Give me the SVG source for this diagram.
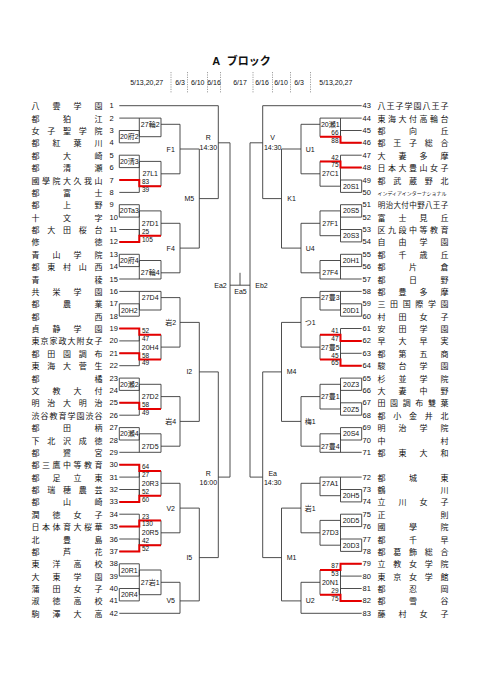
<svg xmlns="http://www.w3.org/2000/svg" width="481" height="680" viewBox="0 0 481 680">
<style>
.ln{fill:none;stroke:#3a3a3a;stroke-width:0.9}
.rd{fill:none;stroke:#e60000;stroke-width:2}
.sep{fill:none;stroke:#888;stroke-width:0.8;stroke-dasharray:1.2 1.2}
.nm{font-family:"Noto Sans CJK JP",sans-serif;font-size:8px;text-anchor:middle;dominant-baseline:central;fill:#111}
.no{font-family:"Liberation Sans",sans-serif;font-size:7.5px;dominant-baseline:central;fill:#111}
.lb{font-family:"Liberation Sans","Noto Sans CJK JP",sans-serif;font-size:7px;text-anchor:middle;dominant-baseline:central;fill:#111}
.sc{font-family:"Liberation Sans",sans-serif;font-size:6.5px;fill:#111}
.scr{font-family:"Liberation Sans",sans-serif;font-size:6.5px;fill:#111;text-anchor:end}
.hd{font-family:"Liberation Sans",sans-serif;font-size:7px;text-anchor:middle;dominant-baseline:central;fill:#111}
.tt{font-family:"Liberation Sans","Noto Sans CJK JP",sans-serif;font-size:11px;font-weight:bold;text-anchor:middle;fill:#111}
</style>
<rect width="481" height="680" fill="#fff"/>
<g id="title">
<text class="tt" x="216.3" y="64.5">A</text>
<text class="tt" x="248.7" y="64.5">ブロック</text>
</g>
<g id="dates">
<text class="hd" x="146.7" y="82.3">5/13,20,27</text>
<text class="hd" x="180" y="82.3">6/3</text>
<text class="hd" x="197.7" y="82.3">6/10</text>
<text class="hd" x="214" y="82.3">6/16</text>
<text class="hd" x="240" y="82.3">6/17</text>
<text class="hd" x="262" y="82.3">6/16</text>
<text class="hd" x="281" y="82.3">6/10</text>
<text class="hd" x="299" y="82.3">6/3</text>
<text class="hd" x="335.8" y="82.3">5/13,20,27</text>
<path class="sep" d="M171 72V93M187.5 72V93M207.5 72V93M220.5 72V93M253 72V93M272.5 72V93M290.5 72V93M310.5 72V93"/>
</g>
<g id="connectors">
<path class="ln" d="M119.3 105.7H218.3M119.3 118.1H161M119.3 130.5H139.3M119.3 142.8H139.3M119.3 155.2H139.3M119.3 167.6H139.3M119.3 180H139.3M119.3 192.4H139.3M119.3 204.7H139.3M119.3 217.1H139.3M119.3 229.5H139.3M119.3 241.9H139.3M119.3 254.3H139.3M119.3 266.6H139.3M119.3 279H161M119.3 291.4H161M119.3 303.8H139.3M119.3 316.2H139.3M119.3 328.5H139.3M119.3 340.9H139.3M119.3 353.3H139.3M119.3 365.7H139.3M119.3 378.1H139.3M119.3 390.4H139.3M119.3 402.8H139.3M119.3 415.2H139.3M119.3 427.6H139.3M119.3 440H139.3M119.3 452.3H161M119.3 464.7H139.3M119.3 477.1H139.3M119.3 489.5H139.3M119.3 501.9H139.3M119.3 514.2H139.3M119.3 526.6H139.3M119.3 539H139.3M119.3 551.4H139.3M119.3 563.8H139.3M119.3 576.1H139.3M119.3 588.5H139.3M119.3 600.9H139.3M119.3 613.3H180
M139.3 130.5V142.8M139.3 136.7H161M139.3 155.2V167.6M139.3 161.4H161M139.3 180V192.4M139.3 186.2H161M139.3 204.7V217.1M139.3 210.9H161M139.3 229.5V241.9M139.3 235.7H161M139.3 254.3V266.6M139.3 260.5H161M139.3 303.8V316.2M139.3 310H161M139.3 328.5V340.9M139.3 334.7H161M139.3 353.3V365.7M139.3 359.5H161M139.3 378.1V390.4M139.3 384.3H161M139.3 402.8V415.2M139.3 409H161M139.3 427.6V440M139.3 433.8H161M139.3 464.7V477.1M139.3 470.9H161M139.3 489.5V501.9M139.3 495.7H161M139.3 514.2V526.6M139.3 520.4H161M139.3 539V551.4M139.3 545.2H161M139.3 563.8V576.1M139.3 570H161M139.3 588.5V600.9M139.3 594.7H161
M119.3 130.5V142.8M119.3 155.2V167.6M119.3 204.7V217.1M119.3 254.3V266.6M119.3 303.8V316.2M119.3 378.1V390.4M119.3 427.6V440M119.3 563.8V576.1M119.3 588.5V600.9
M161 118.1V136.7M161 124.3H180M139.3 118.1V136.7M161 161.4V186.2M161 173.8H180M139.3 161.4V186.2M161 210.9V235.7M161 223.3H180M139.3 210.9V235.7M161 260.5V279M161 272.8H180M139.3 260.5V279M161 291.4V310M161 297.6H180M139.3 291.4V310M161 334.7V359.5M161 347.1H180M139.3 334.7V359.5M161 384.3V409M161 396.6H180M139.3 384.3V409M161 433.8V452.3M161 446.2H180M139.3 433.8V452.3M161 470.9V495.7M161 483.3H180M139.3 470.9V495.7M161 520.4V545.2M161 532.8H180M139.3 520.4V545.2M161 570V594.7M161 582.3H180M139.3 570V594.7
M180 124.3V173.8M180 149H199.3M180 223.3V272.8M180 248.1H199.3M180 297.6V347.1M180 322.4H199.3M180 396.6V446.2M180 421.4H199.3M180 483.3V532.8M180 508.1H199.3M180 582.3V613.3M180 600.9H199.3
M199.3 149V248.1M199.3 198.6H218.3M199.3 322.4V421.4M199.3 371.9H218.3M199.3 508.1V600.9M199.3 557.6H218.3
M218.3 105.7V198.6M218.3 142.8H230M218.3 371.9V557.6M218.3 477.1H230
M230 142.8V477.1M250 142.8V477.1M230 285.2H250M240 272.8V285.2
M361.7 105.7H262.7M361.7 118.1H320M361.7 130.5H340.5M361.7 142.8H340.5M361.7 155.2H340.5M361.7 167.6H340.5M361.7 180H340.5M361.7 192.4H340.5M361.7 204.7H340.5M361.7 217.1H340.5M361.7 229.5H340.5M361.7 241.9H340.5M361.7 254.3H340.5M361.7 266.6H340.5M361.7 279H320M361.7 291.4H320M361.7 303.8H340.5M361.7 316.2H340.5M361.7 328.5H340.5M361.7 340.9H340.5M361.7 353.3H340.5M361.7 365.7H340.5M361.7 378.1H340.5M361.7 390.4H340.5M361.7 402.8H340.5M361.7 415.2H340.5M361.7 427.6H340.5M361.7 440H340.5M361.7 452.3H320M361.7 477.1H320M361.7 489.5H340.5M361.7 501.9H340.5M361.7 514.2H340.5M361.7 526.6H340.5M361.7 539H340.5M361.7 551.4H340.5M361.7 563.8H340.5M361.7 576.1H340.5M361.7 588.5H340.5M361.7 600.9H340.5M361.7 613.3H301
M340.5 130.5V142.8M340.5 136.7H320M340.5 155.2V167.6M340.5 161.4H320M340.5 180V192.4M340.5 186.2H320M340.5 204.7V217.1M340.5 210.9H320M340.5 229.5V241.9M340.5 235.7H320M340.5 254.3V266.6M340.5 260.5H320M340.5 303.8V316.2M340.5 310H320M340.5 328.5V340.9M340.5 334.7H320M340.5 353.3V365.7M340.5 359.5H320M340.5 378.1V390.4M340.5 384.3H320M340.5 402.8V415.2M340.5 409H320M340.5 427.6V440M340.5 433.8H320M340.5 489.5V501.9M340.5 495.7H320M340.5 514.2V526.6M340.5 520.4H320M340.5 539V551.4M340.5 545.2H320M340.5 563.8V576.1M340.5 570H320M340.5 588.5V600.9M340.5 594.7H320
M361.7 180V192.4M361.7 204.7V217.1M361.7 229.5V241.9M361.7 254.3V266.6M361.7 303.8V316.2M361.7 378.1V390.4M361.7 402.8V415.2M361.7 427.6V440M361.7 489.5V501.9M361.7 514.2V526.6M361.7 539V551.4
M320 118.1V136.7M320 124.3H301M340.5 118.1V136.7M320 161.4V186.2M320 173.8H301M340.5 161.4V186.2M320 210.9V235.7M320 223.3H301M340.5 210.9V235.7M320 260.5V279M320 272.8H301M340.5 260.5V279M320 291.4V310M320 297.6H301M340.5 291.4V310M320 334.7V359.5M320 347.1H301M340.5 334.7V359.5M320 384.3V409M320 396.6H301M340.5 384.3V409M320 433.8V452.3M320 446.2H301M340.5 433.8V452.3M320 477.1V495.7M320 483.3H301M340.5 477.1V495.7M320 520.4V545.2M320 532.8H301M340.5 520.4V545.2M320 570V594.7M320 582.3H301M340.5 570V594.7
M301 124.3V173.8M301 149H281.5M301 223.3V272.8M301 248.1H281.5M301 297.6V347.1M301 322.4H281.5M301 396.6V446.2M301 421.4H281.5M301 483.3V532.8M301 508.1H281.5M301 582.3V613.3M301 600.9H281.5
M281.5 149V248.1M281.5 198.6H262.7M281.5 322.4V421.4M281.5 371.9H262.7M281.5 508.1V600.9M281.5 557.6H262.7
M262.7 105.7V198.6M262.7 142.8H250M262.7 371.9V557.6M262.7 477.1H250"/>
<path class="rd" d="M119.3 180H139.3V186.2H161M119.3 241.9H139.3V235.7H161M119.3 328.5H139.3V334.7H161M119.3 353.3H139.3V359.5H161M119.3 402.8H139.3V409H161M119.3 464.7H139.3V470.9H161M119.3 501.9H139.3V495.7H161M119.3 526.6H139.3V520.4H161M119.3 551.4H139.3V545.2H161M361.7 142.8H340.5V136.7H320M361.7 167.6H340.5V161.4H320M361.7 340.9H340.5V334.7H320M361.7 365.7H340.5V359.5H320M361.7 563.8H340.5V570H320M361.7 600.9H340.5V594.7H320"/>
</g>
<g id="scores">
<text class="sc" x="142" y="184.4">83</text><text class="sc" x="142" y="192.1">39</text>
<text class="sc" x="142" y="233.9">25</text><text class="sc" x="142" y="241.6">105</text>
<text class="sc" x="142" y="332.9">52</text><text class="sc" x="142" y="340.6">47</text>
<text class="sc" x="142" y="357.7">58</text><text class="sc" x="142" y="365.4">49</text>
<text class="sc" x="142" y="407.2">58</text><text class="sc" x="142" y="414.9">49</text>
<text class="sc" x="142" y="469.1">64</text><text class="sc" x="142" y="476.8">27</text>
<text class="sc" x="142" y="493.9">52</text><text class="sc" x="142" y="501.6">60</text>
<text class="sc" x="142" y="518.6">23</text><text class="sc" x="142" y="526.3">130</text>
<text class="sc" x="142" y="543.4">42</text><text class="sc" x="142" y="551.1">52</text>
<text class="scr" x="338.5" y="134.9">66</text><text class="scr" x="338.5" y="142.6">88</text>
<text class="scr" x="338.5" y="159.6">42</text><text class="scr" x="338.5" y="167.3">75</text>
<text class="scr" x="338.5" y="332.9">41</text><text class="scr" x="338.5" y="340.6">47</text>
<text class="scr" x="338.5" y="357.7">45</text><text class="scr" x="338.5" y="365.4">65</text>
<text class="scr" x="338.5" y="568.2">87</text><text class="scr" x="338.5" y="575.9">53</text>
<text class="scr" x="338.5" y="592.9">29</text><text class="scr" x="338.5" y="600.6">75</text>
</g>
<g id="match-labels">
<g id="m-L20fu2"><text class="lb" x="129.3" y="136.7">20府2</text></g>
<g id="m-L27rin2"><text class="lb" x="150.2" y="124.3">27輪2</text></g>
<g id="m-L20kiyo3"><text class="lb" x="129.3" y="161.4">20清3</text></g>
<g id="m-L27L1"><text class="lb" x="150.2" y="173.8">27L1</text></g>
<g id="m-L20Ta3"><text class="lb" x="129.3" y="210.9">20Ta3</text></g>
<g id="m-L27D1"><text class="lb" x="150.2" y="223.3">27D1</text></g>
<g id="m-L20fu4"><text class="lb" x="129.3" y="260.5">20府4</text></g>
<g id="m-L27rin4"><text class="lb" x="150.2" y="272.8">27輪4</text></g>
<g id="m-L27D4"><text class="lb" x="150.2" y="297.6">27D4</text></g>
<g id="m-L20H2"><text class="lb" x="129.3" y="310">20H2</text></g>
<g id="m-L20H4"><text class="lb" x="150.2" y="347.1">20H4</text></g>
<g id="m-L20se2"><text class="lb" x="129.3" y="384.3">20瀬2</text></g>
<g id="m-L27D2"><text class="lb" x="150.2" y="396.6">27D2</text></g>
<g id="m-L20se4"><text class="lb" x="129.3" y="433.8">20瀬4</text></g>
<g id="m-L27D5"><text class="lb" x="150.2" y="446.2">27D5</text></g>
<g id="m-L20R3"><text class="lb" x="150.2" y="483.3">20R3</text></g>
<g id="m-L20R5"><text class="lb" x="150.2" y="532.8">20R5</text></g>
<g id="m-L20R1"><text class="lb" x="129.3" y="570">20R1</text></g>
<g id="m-L27iwa1"><text class="lb" x="150.2" y="582.3">27岩1</text></g>
<g id="m-L20R4"><text class="lb" x="129.3" y="594.7">20R4</text></g>
<g id="m-F1"><text class="lb" x="170.7" y="149">F1</text></g>
<g id="m-F4"><text class="lb" x="170.7" y="248.1">F4</text></g>
<g id="m-iwa2"><text class="lb" x="170.7" y="322.4">岩2</text></g>
<g id="m-iwa4"><text class="lb" x="170.7" y="421.4">岩4</text></g>
<g id="m-V2"><text class="lb" x="170.7" y="508.1">V2</text></g>
<g id="m-V5"><text class="lb" x="170.7" y="600.9">V5</text></g>
<g id="m-M5"><text class="lb" x="189.3" y="198.6">M5</text></g>
<g id="m-I2"><text class="lb" x="189.3" y="371.9">I2</text></g>
<g id="m-I5"><text class="lb" x="189.3" y="557.6">I5</text></g>
<g id="m-R1430"><text class="lb" x="208.3" y="137.7">R</text><text class="lb" x="208.3" y="147.7">14:30</text></g>
<g id="m-R1600"><text class="lb" x="208.3" y="473.1">R</text><text class="lb" x="208.3" y="482.3">16:00</text></g>
<g id="m-Ea2"><text class="lb" x="220.5" y="285.2">Ea2</text></g>
<g id="m-Ea5"><text class="lb" x="240.5" y="291.8">Ea5</text></g>
<g id="m-Eb2"><text class="lb" x="261.5" y="285.2">Eb2</text></g>
<g id="m-V1430"><text class="lb" x="272.7" y="137.7">V</text><text class="lb" x="272.7" y="147.7">14:30</text></g>
<g id="m-Ea1430"><text class="lb" x="272.7" y="473.1">Ea</text><text class="lb" x="272.7" y="482.3">14:30</text></g>
<g id="m-K1"><text class="lb" x="291.5" y="198.6">K1</text></g>
<g id="m-M4"><text class="lb" x="291.5" y="371.9">M4</text></g>
<g id="m-M1"><text class="lb" x="291.5" y="557.6">M1</text></g>
<g id="m-U1"><text class="lb" x="310.3" y="149">U1</text></g>
<g id="m-U4"><text class="lb" x="310.3" y="248.1">U4</text></g>
<g id="m-tsu1"><text class="lb" x="310.3" y="322.4">つ1</text></g>
<g id="m-ume1"><text class="lb" x="310.3" y="421.4">梅1</text></g>
<g id="m-iwa1"><text class="lb" x="310.3" y="508.1">岩1</text></g>
<g id="m-U2"><text class="lb" x="310.3" y="600.9">U2</text></g>
<g id="m-R20se1"><text class="lb" x="330.3" y="124.3">20瀬1</text></g>
<g id="m-R27C1"><text class="lb" x="330.3" y="173.8">27C1</text></g>
<g id="m-R20S1"><text class="lb" x="351.1" y="186.2">20S1</text></g>
<g id="m-R20S5"><text class="lb" x="351.1" y="210.9">20S5</text></g>
<g id="m-R27F1"><text class="lb" x="330.3" y="223.3">27F1</text></g>
<g id="m-R20S3"><text class="lb" x="351.1" y="235.7">20S3</text></g>
<g id="m-R20H1"><text class="lb" x="351.1" y="260.5">20H1</text></g>
<g id="m-R27F4"><text class="lb" x="330.3" y="272.8">27F4</text></g>
<g id="m-R27to3"><text class="lb" x="330.3" y="297.6">27豊3</text></g>
<g id="m-R20D1"><text class="lb" x="351.1" y="310">20D1</text></g>
<g id="m-R27to5"><text class="lb" x="330.3" y="347.1">27豊5</text></g>
<g id="m-R20Z3"><text class="lb" x="351.1" y="384.3">20Z3</text></g>
<g id="m-R27to1"><text class="lb" x="330.3" y="396.6">27豊1</text></g>
<g id="m-R20Z5"><text class="lb" x="351.1" y="409">20Z5</text></g>
<g id="m-R20S4"><text class="lb" x="351.1" y="433.8">20S4</text></g>
<g id="m-R27to4"><text class="lb" x="330.3" y="446.2">27豊4</text></g>
<g id="m-R27A1"><text class="lb" x="330.3" y="483.3">27A1</text></g>
<g id="m-R20H5"><text class="lb" x="351.1" y="495.7">20H5</text></g>
<g id="m-R20D5"><text class="lb" x="351.1" y="520.4">20D5</text></g>
<g id="m-R27D3"><text class="lb" x="330.3" y="532.8">27D3</text></g>
<g id="m-R20D3"><text class="lb" x="351.1" y="545.2">20D3</text></g>
<g id="m-R20N1"><text class="lb" x="330.3" y="582.3">20N1</text></g>
</g>
<g id="teams-left">
<g id="team1"><text class="nm" x="35.5 56.5 77.5 98.5" y="105.7">八雲学園</text><text class="no" x="109.5" y="105.7">1</text></g>
<g id="team2"><text class="nm" x="35.5 67 98.5" y="118.1">都狛江</text><text class="no" x="109.5" y="118.1">2</text></g>
<g id="team3"><text class="nm" x="35.5 51.25 67 82.75 98.5" y="130.5">女子聖学院</text><text class="no" x="109.5" y="130.5">3</text></g>
<g id="team4"><text class="nm" x="35.5 56.5 77.5 98.5" y="142.8">都紅葉川</text><text class="no" x="109.5" y="142.8">4</text></g>
<g id="team5"><text class="nm" x="35.5 67 98.5" y="155.2">都大崎</text><text class="no" x="109.5" y="155.2">5</text></g>
<g id="team6"><text class="nm" x="35.5 67 98.5" y="167.6">都清瀬</text><text class="no" x="109.5" y="167.6">6</text></g>
<g id="team7"><text class="nm" x="35.5 46 56.5 67 77.5 88 98.5" y="180">國學院大久我山</text><text class="no" x="109.5" y="180">7</text></g>
<g id="team8"><text class="nm" x="35.5 67 98.5" y="192.4">都富士</text><text class="no" x="109.5" y="192.4">8</text></g>
<g id="team9"><text class="nm" x="35.5 67 98.5" y="204.7">都上野</text><text class="no" x="109.5" y="204.7">9</text></g>
<g id="team10"><text class="nm" x="35.5 67 98.5" y="217.1">十文字</text><text class="no" x="109.5" y="217.1">10</text></g>
<g id="team11"><text class="nm" x="35.5 51.25 67 82.75 98.5" y="229.5">都大田桜台</text><text class="no" x="109.5" y="229.5">11</text></g>
<g id="team12"><text class="nm" x="35.5 98.5" y="241.9">修徳</text><text class="no" x="109.5" y="241.9">12</text></g>
<g id="team13"><text class="nm" x="35.5 56.5 77.5 98.5" y="254.3">青山学院</text><text class="no" x="109.5" y="254.3">13</text></g>
<g id="team14"><text class="nm" x="35.5 51.25 67 82.75 98.5" y="266.6">都東村山西</text><text class="no" x="109.5" y="266.6">14</text></g>
<g id="team15"><text class="nm" x="35.5 98.5" y="279">青稜</text><text class="no" x="109.5" y="279">15</text></g>
<g id="team16"><text class="nm" x="35.5 56.5 77.5 98.5" y="291.4">共栄学園</text><text class="no" x="109.5" y="291.4">16</text></g>
<g id="team17"><text class="nm" x="35.5 67 98.5" y="303.8">都農業</text><text class="no" x="109.5" y="303.8">17</text></g>
<g id="team18"><text class="nm" x="35.5 98.5" y="316.2">都西</text><text class="no" x="109.5" y="316.2">18</text></g>
<g id="team19"><text class="nm" x="35.5 56.5 77.5 98.5" y="328.5">貞静学園</text><text class="no" x="109.5" y="328.5">19</text></g>
<g id="team20"><text class="nm" x="35.5 44.5 53.5 62.5 71.5 80.5 89.5 98.5" y="340.9">東京家政大附女子</text><text class="no" x="109.5" y="340.9">20</text></g>
<g id="team21"><text class="nm" x="35.5 51.25 67 82.75 98.5" y="353.3">都田園調布</text><text class="no" x="109.5" y="353.3">21</text></g>
<g id="team22"><text class="nm" x="35.5 51.25 67 82.75 98.5" y="365.7">東海大菅生</text><text class="no" x="109.5" y="365.7">22</text></g>
<g id="team23"><text class="nm" x="35.5 98.5" y="378.1">都橘</text><text class="no" x="109.5" y="378.1">23</text></g>
<g id="team24"><text class="nm" x="35.5 56.5 77.5 98.5" y="390.4">文教大付</text><text class="no" x="109.5" y="390.4">24</text></g>
<g id="team25"><text class="nm" x="35.5 51.25 67 82.75 98.5" y="402.8">明治大明治</text><text class="no" x="109.5" y="402.8">25</text></g>
<g id="team26"><text class="nm" x="35.5 44.5 53.5 62.5 71.5 80.5 89.5 98.5" y="415.2">渋谷教育学園渋谷</text><text class="no" x="109.5" y="415.2">26</text></g>
<g id="team27"><text class="nm" x="35.5 67 98.5" y="427.6">都田柄</text><text class="no" x="109.5" y="427.6">27</text></g>
<g id="team28"><text class="nm" x="35.5 51.25 67 82.75 98.5" y="440">下北沢成徳</text><text class="no" x="109.5" y="440">28</text></g>
<g id="team29"><text class="nm" x="35.5 67 98.5" y="452.3">都鷺宮</text><text class="no" x="109.5" y="452.3">29</text></g>
<g id="team30"><text class="nm" x="35.5 46 56.5 67 77.5 88 98.5" y="464.7">都三鷹中等教育</text><text class="no" x="109.5" y="464.7">30</text></g>
<g id="team31"><text class="nm" x="35.5 56.5 77.5 98.5" y="477.1">都足立東</text><text class="no" x="109.5" y="477.1">31</text></g>
<g id="team32"><text class="nm" x="35.5 51.25 67 82.75 98.5" y="489.5">都瑞穂農芸</text><text class="no" x="109.5" y="489.5">32</text></g>
<g id="team33"><text class="nm" x="35.5 67 98.5" y="501.9">都山崎</text><text class="no" x="109.5" y="501.9">33</text></g>
<g id="team34"><text class="nm" x="35.5 56.5 77.5 98.5" y="514.2">潤徳女子</text><text class="no" x="109.5" y="514.2">34</text></g>
<g id="team35"><text class="nm" x="35.5 46 56.5 67 77.5 88 98.5" y="526.6">日本体育大桜華</text><text class="no" x="109.5" y="526.6">35</text></g>
<g id="team36"><text class="nm" x="35.5 67 98.5" y="539">北豊島</text><text class="no" x="109.5" y="539">36</text></g>
<g id="team37"><text class="nm" x="35.5 67 98.5" y="551.4">都芦花</text><text class="no" x="109.5" y="551.4">37</text></g>
<g id="team38"><text class="nm" x="35.5 56.5 77.5 98.5" y="563.8">東洋高校</text><text class="no" x="109.5" y="563.8">38</text></g>
<g id="team39"><text class="nm" x="35.5 56.5 77.5 98.5" y="576.1">大東学園</text><text class="no" x="109.5" y="576.1">39</text></g>
<g id="team40"><text class="nm" x="35.5 56.5 77.5 98.5" y="588.5">蒲田女子</text><text class="no" x="109.5" y="588.5">40</text></g>
<g id="team41"><text class="nm" x="35.5 56.5 77.5 98.5" y="600.9">淑徳高校</text><text class="no" x="109.5" y="600.9">41</text></g>
<g id="team42"><text class="nm" x="35.5 56.5 77.5 98.5" y="613.3">駒澤大高</text><text class="no" x="109.5" y="613.3">42</text></g>
</g>
<g id="teams-right">
<g id="team43"><text class="no" x="362.5" y="105.7">43</text><text class="nm" x="381.5 390.5 399.5 408.5 417.5 426.5 435.5 444.5" y="105.7">八王子学園八王子</text></g>
<g id="team44"><text class="no" x="362.5" y="118.1">44</text><text class="nm" x="381.5 392 402.5 413 423.5 434 444.5" y="118.1">東海大付高輪台</text></g>
<g id="team45"><text class="no" x="362.5" y="130.5">45</text><text class="nm" x="381.5 413 444.5" y="130.5">都向丘</text></g>
<g id="team46"><text class="no" x="362.5" y="142.8">46</text><text class="nm" x="381.5 397.25 413 428.75 444.5" y="142.8">都王子総合</text></g>
<g id="team47"><text class="no" x="362.5" y="155.2">47</text><text class="nm" x="381.5 402.5 423.5 444.5" y="155.2">大妻多摩</text></g>
<g id="team48"><text class="no" x="362.5" y="167.6">48</text><text class="nm" x="381.5 392 402.5 413 423.5 434 444.5" y="167.6">日本大豊山女子</text></g>
<g id="team49"><text class="no" x="362.5" y="180">49</text><text class="nm" x="381.5 397.25 413 428.75 444.5" y="180">都武蔵野北</text></g>
<g id="team50"><text class="no" x="362.5" y="192.4">50</text><text class="nm" style="font-size:5px;text-anchor:start" x="377.5" y="192.4" textLength="69" lengthAdjust="spacingAndGlyphs">インディアインターナショナル</text></g>
<g id="team51"><text class="no" x="362.5" y="204.7">51</text><text class="nm" style="font-size:7.5px" x="381.5 389.4 397.3 405.1 413 420.9 428.8 436.6 444.5" y="204.7">明治大付中野八王子</text></g>
<g id="team52"><text class="no" x="362.5" y="217.1">52</text><text class="nm" x="381.5 402.5 423.5 444.5" y="217.1">富士見丘</text></g>
<g id="team53"><text class="no" x="362.5" y="229.5">53</text><text class="nm" x="381.5 392 402.5 413 423.5 434 444.5" y="229.5">区九段中等教育</text></g>
<g id="team54"><text class="no" x="362.5" y="241.9">54</text><text class="nm" x="381.5 402.5 423.5 444.5" y="241.9">自由学園</text></g>
<g id="team55"><text class="no" x="362.5" y="254.3">55</text><text class="nm" x="381.5 402.5 423.5 444.5" y="254.3">都千歳丘</text></g>
<g id="team56"><text class="no" x="362.5" y="266.6">56</text><text class="nm" x="381.5 413 444.5" y="266.6">都片倉</text></g>
<g id="team57"><text class="no" x="362.5" y="279">57</text><text class="nm" x="381.5 413 444.5" y="279">都日野</text></g>
<g id="team58"><text class="no" x="362.5" y="291.4">58</text><text class="nm" x="381.5 402.5 423.5 444.5" y="291.4">都豊多摩</text></g>
<g id="team59"><text class="no" x="362.5" y="303.8">59</text><text class="nm" x="381.5 394.1 406.7 419.3 431.9 444.5" y="303.8">三田国際学園</text></g>
<g id="team60"><text class="no" x="362.5" y="316.2">60</text><text class="nm" x="381.5 402.5 423.5 444.5" y="316.2">村田女子</text></g>
<g id="team61"><text class="no" x="362.5" y="328.5">61</text><text class="nm" x="381.5 402.5 423.5 444.5" y="328.5">安田学園</text></g>
<g id="team62"><text class="no" x="362.5" y="340.9">62</text><text class="nm" x="381.5 402.5 423.5 444.5" y="340.9">早大早実</text></g>
<g id="team63"><text class="no" x="362.5" y="353.3">63</text><text class="nm" x="381.5 402.5 423.5 444.5" y="353.3">都第五商</text></g>
<g id="team64"><text class="no" x="362.5" y="365.7">64</text><text class="nm" x="381.5 402.5 423.5 444.5" y="365.7">駿台学園</text></g>
<g id="team65"><text class="no" x="362.5" y="378.1">65</text><text class="nm" x="381.5 402.5 423.5 444.5" y="378.1">杉並学院</text></g>
<g id="team66"><text class="no" x="362.5" y="390.4">66</text><text class="nm" x="381.5 402.5 423.5 444.5" y="390.4">大妻中野</text></g>
<g id="team67"><text class="no" x="362.5" y="402.8">67</text><text class="nm" x="381.5 394.1 406.7 419.3 431.9 444.5" y="402.8">田園調布雙葉</text></g>
<g id="team68"><text class="no" x="362.5" y="415.2">68</text><text class="nm" x="381.5 397.25 413 428.75 444.5" y="415.2">都小金井北</text></g>
<g id="team69"><text class="no" x="362.5" y="427.6">69</text><text class="nm" x="381.5 402.5 423.5 444.5" y="427.6">明治学院</text></g>
<g id="team70"><text class="no" x="362.5" y="440">70</text><text class="nm" x="381.5 444.5" y="440">中村</text></g>
<g id="team71"><text class="no" x="362.5" y="452.3">71</text><text class="nm" x="381.5 402.5 423.5 444.5" y="452.3">都東大和</text></g>
<g id="team72"><text class="no" x="362.5" y="477.1">72</text><text class="nm" x="381.5 413 444.5" y="477.1">都城東</text></g>
<g id="team73"><text class="no" x="362.5" y="489.5">73</text><text class="nm" x="381.5 444.5" y="489.5">鶴川</text></g>
<g id="team74"><text class="no" x="362.5" y="501.9">74</text><text class="nm" x="381.5 402.5 423.5 444.5" y="501.9">立川女子</text></g>
<g id="team75"><text class="no" x="362.5" y="514.2">75</text><text class="nm" x="381.5 444.5" y="514.2">正則</text></g>
<g id="team76"><text class="no" x="362.5" y="526.6">76</text><text class="nm" x="381.5 413 444.5" y="526.6">國學院</text></g>
<g id="team77"><text class="no" x="362.5" y="539">77</text><text class="nm" x="381.5 413 444.5" y="539">都千早</text></g>
<g id="team78"><text class="no" x="362.5" y="551.4">78</text><text class="nm" x="381.5 397.25 413 428.75 444.5" y="551.4">都葛飾総合</text></g>
<g id="team79"><text class="no" x="362.5" y="563.8">79</text><text class="nm" x="381.5 397.25 413 428.75 444.5" y="563.8">立教女学院</text></g>
<g id="team80"><text class="no" x="362.5" y="576.1">80</text><text class="nm" x="381.5 397.25 413 428.75 444.5" y="576.1">東京女学館</text></g>
<g id="team81"><text class="no" x="362.5" y="588.5">81</text><text class="nm" x="381.5 413 444.5" y="588.5">都忍岡</text></g>
<g id="team82"><text class="no" x="362.5" y="600.9">82</text><text class="nm" x="381.5 413 444.5" y="600.9">都雪谷</text></g>
<g id="team83"><text class="no" x="362.5" y="613.3">83</text><text class="nm" x="381.5 402.5 423.5 444.5" y="613.3">藤村女子</text></g>
</g>
</svg>
